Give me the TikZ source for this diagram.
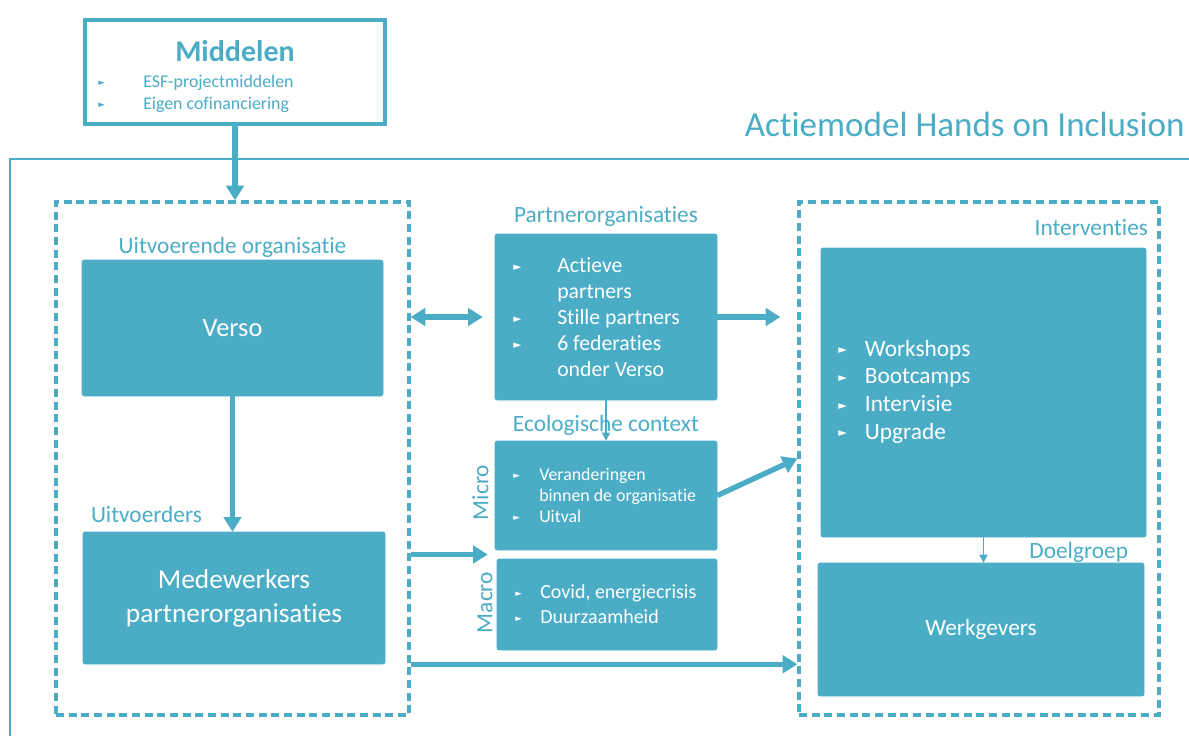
\documentclass[tikz,border=0pt]{standalone}
\usepackage{fontspec}
\setmainfont{Carlito}[Ligatures=NoCommon]
\newfontfamily\dejavu{DejaVu Sans}
\usetikzlibrary{arrows.meta,positioning,calc}
\definecolor{hoiblue}{RGB}{75,172,198}
\newcommand{\bul}[2]{\makebox[#1][l]{\raisebox{.2ex}{\fontsize{#2}{#2}\selectfont\dejavu ►}}}

\begin{document}
\begin{tikzpicture}[x=0.75pt, y=-0.75pt, font=\fontsize{17.5}{21}\selectfont,
  lbl/.style={text=hoiblue, inner sep=0pt},
  fillbox/.style={fill=hoiblue, draw=hoiblue, rounded corners=1.5pt, text=white, align=center, inner sep=0pt},
  framebox/.style={draw=hoiblue, dash pattern=on 6pt off 3.5pt, line width=2.4pt, inner sep=0pt},
  lst/.style={text=white, align=left, inner sep=0pt, anchor=west},
  bigarr/.style={-{Triangle[width=13pt,length=11pt]}, line width=4pt, draw=hoiblue},
  thinarr/.style={-{Triangle[width=6pt,length=6pt]}, line width=1.1pt, draw=hoiblue}]
\useasboundingbox (0,0) rectangle (1189,736);

% kader en titel
\coordinate (framebot) at (10,736);
\coordinate (frametop) at (10,159);
\coordinate (frameend) at (1189,159);
\draw[hoiblue, line width=1.1pt] (framebot) -- (frametop) -- (frameend);
\node[lbl, anchor=base east, font=\fontsize{26.3}{30}\selectfont] (title) at (1185,136) {Actiemodel Hands on Inclusion};

% middelen
\node[draw=hoiblue, line width=3pt, fill=white, minimum width=225pt, minimum height=78pt] (mid) at (235,72) {};
\node[lbl, anchor=base, font=\bfseries\fontsize{22.5}{26}\selectfont] (midtitle) at (235,61) {Middelen};
\node[lbl, align=left, anchor=west, font=\fontsize{13.4}{16.5}\selectfont] (midlist) at (98,94)
  {\bul{33.75pt}{6.5}ESF-projectmiddelen\\\bul{33.75pt}{6.5}Eigen cofinanciering};

% uitvoerende organisatie
\node[framebox, minimum width=264.75pt, minimum height=384.75pt] (uitv) at (232.5,458.5) {};
\node[fillbox, minimum width=225.75pt, minimum height=102pt, font=\fontsize{19.8}{24}\selectfont] (verso) at (232.5,328) {Verso};
\node[lbl, above=1.5pt of verso] (uitvlbl) {Uitvoerende organisatie};
\node[fillbox, minimum width=226.5pt, minimum height=99pt, font=\fontsize{20.5}{25.5}\selectfont] (mede) at (234,598) {Medewerkers\\partnerorganisaties};
\node[lbl, above right=6.75pt and 6pt of mede.north west] (medelbl) {Uitvoerders};

% partners en context
\node[fillbox, minimum width=166.5pt, minimum height=124.5pt] (partner) at (606,317) {};
\node[lbl, above=5.5pt of partner] (partnerlbl) {Partnerorganisaties};
\node[lst, font=\fontsize{16.3}{19.5}\selectfont] (partnerlist) at (513,317.5)
  {\bul{33pt}{8}Actieve\\\hspace{33pt}partners\\\bul{33pt}{8}Stille partners\\\bul{33pt}{8}6 federaties\\\hspace{33pt}onder Verso};
\node[fillbox, minimum width=166.5pt, minimum height=81.75pt] (micro) at (606,495.5) {};
\node[lbl, above=3.75pt of micro] (ecolbl) {Ecologische context};
\node[lst, font=\fontsize{13.4}{15.75}\selectfont] (microlist) at (513,495.2)
  {\bul{19.5pt}{6.5}Veranderingen\\\hspace{19.5pt}binnen de organisatie\\\bul{19.5pt}{6.5}Uitval};
\node[lbl, rotate=90] (microlbl) at (480.5,492.5) {Micro};
\node[fillbox, minimum width=165pt, minimum height=68.25pt] (macro) at (607,604.5) {};
\node[lst, font=\fontsize{15}{18.75}\selectfont] (macrolist) at (515,604)
  {\bul{18.75pt}{6.5}Covid, energiecrisis\\\bul{18.75pt}{6.5}Duurzaamheid};
\node[lbl, rotate=90] (macrolbl) at (485,602.5) {Macro};
\coordinate (ecogap) at ($(micro.south west)!.5!(macro.north west)$);

% interventies en doelgroep
\node[framebox, minimum width=270pt, minimum height=384.75pt] (interfr) at (979,458.5) {};
\node[fillbox, minimum width=243.75pt, minimum height=216.75pt] (interv) at (983.5,392.5) {};
\node[lbl, above left=9pt and -1.5pt of interv.north east] (intervlbl) {Interventies};
\node[lst, font=\fontsize{17.5}{20.8}\selectfont] (intervlist) at (838,391.5)
  {\bul{20pt}{8.5}Workshops\\\bul{20pt}{8.5}Bootcamps\\\bul{20pt}{8.5}Intervisie\\\bul{20pt}{8.5}Upgrade};
\node[fillbox, minimum width=244.5pt, minimum height=99.75pt] (werk) at (981,629.5) {Werkgevers};
\node[lbl, above left=0pt and 12pt of werk.north east] (werklbl) {Doelgroep};

% pijlen
\draw[bigarr] (mid.south) -- (mid.south |- uitv.north);
\draw[bigarr] (verso.south) -- (verso.south |- mede.north);
\draw[bigarr, {Triangle[width=13pt,length=11pt]}-{Triangle[width=13pt,length=11pt]}, shorten >=9pt] (uitv.east |- partner.west) -- (partner.west);
\draw[bigarr, shorten >=12.75pt] (partner.east) -- (partner.east -| interfr.west);
\draw[thinarr] (partner.south) -- (partner.south |- micro.north);
\draw[bigarr] (micro.east) -- (interfr.west);
\draw[bigarr, shorten >=6pt] (uitv.east |- ecogap) -- (ecogap);
\draw[bigarr] (uitv.east |- mede.south) -- (interfr.west |- mede.south);
\draw[thinarr] (interv.south) -- (interv.south |- werk.north);
\end{tikzpicture}
\end{document}
